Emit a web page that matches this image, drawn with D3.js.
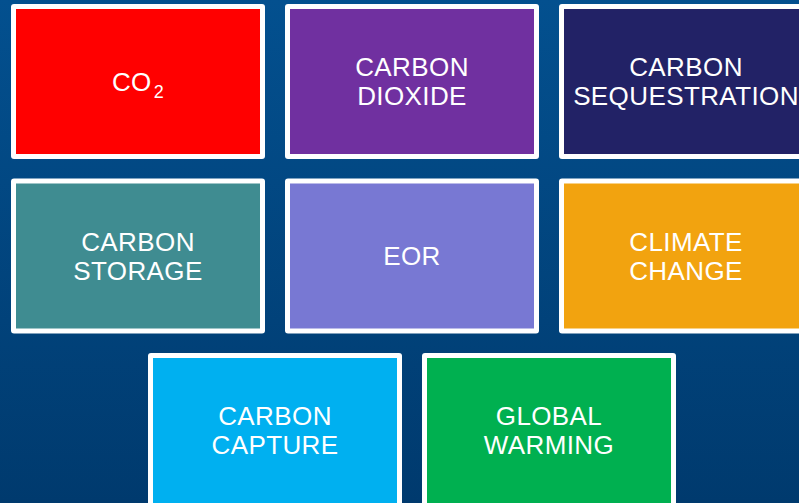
<!DOCTYPE html>
<html>
<head>
<meta charset="utf-8">
<script src="https://cdn.jsdelivr.net/npm/d3@7"></script>
<style>
html,body{margin:0;padding:0;overflow:hidden;background:#023f75;}
svg{display:block;}
</style>
</head>
<body>
<svg id="chart" width="799" height="503"></svg>
<script>
// Tile labels (each entry: lines of text); CO2 handled with subscript marker "_"
const labels = [
  ["CO_2"],
  ["CARBON", "DIOXIDE"],
  ["CARBON", "SEQUESTRATION"],
  ["CARBON", "STORAGE"],
  ["EOR"],
  ["CLIMATE", "CHANGE"],
  ["CARBON", "CAPTURE"],
  ["GLOBAL", "WARMING"]
];
const colors = ["#FF0000", "#7030A0", "#222266", "#3F8C91", "#7878D3", "#F2A30F", "#00B0F0", "#00B050"];
const rowSizes = [3, 3, 2];

const W = 799, H = 503;
const svg = d3.select("#chart");

const defs = svg.append("defs");
const grad = defs.append("linearGradient").attr("id", "bg").attr("x1", 0).attr("y1", 0).attr("x2", 0).attr("y2", 1);
grad.append("stop").attr("offset", "0%").attr("stop-color", "#03508f");
grad.append("stop").attr("offset", "100%").attr("stop-color", "#003a6e");
svg.append("rect").attr("width", W).attr("height", H).attr("fill", "url(#bg)");

// build tile table
const tiles = [];
let idx = 0;
rowSizes.forEach((n, r) => {
  const offset = (3 - n) / 2;
  for (let c = 0; c < n; c++) {
    tiles.push({label: labels[idx], color: colors[idx], row: r, col: c + offset});
    idx++;
  }
});

const x = d3.scaleLinear().domain([0, 1]).range([11, 285]);
const y = d3.scaleLinear().domain([0, 1]).range([4, 178.5]);
const tw = 254, th = 155, bw = 5;

const g = svg.selectAll("g.tile").data(tiles).join("g")
  .attr("class", "tile")
  .attr("transform", d => `translate(${x(d.col)},${y(d.row)})`);

g.append("rect").attr("width", tw).attr("height", th).attr("rx", 3).attr("fill", "#ffffff");
g.append("rect").attr("x", bw).attr("y", bw).attr("width", tw - 2 * bw).attr("height", th - 2 * bw).attr("fill", d => d.color);

const fs = 26, lh = 29;
g.each(function(d) {
  const t = d3.select(this).append("text")
    .attr("text-anchor", "middle")
    .attr("fill", "#ffffff")
    .attr("font-family", "'Liberation Sans', Arial, sans-serif")
    .attr("font-size", fs)
    .attr("letter-spacing", 0.4);
  const n = d.label.length;
  d.label.forEach((line, i) => {
    const baseY = th / 2 + fs * 0.36 + (i - (n - 1) / 2) * lh;
    if (line.includes("_")) {
      const [main, sub] = line.split("_");
      const tt = t.append("tspan").attr("x", tw / 2).attr("y", baseY);
      tt.text(main);
      t.append("tspan").attr("font-size", 18).attr("dy", 7).attr("dx", 2).text(sub);
    } else {
      t.append("tspan").attr("x", tw / 2).attr("y", baseY).text(line);
    }
  });
});
</script>
</body>
</html>
